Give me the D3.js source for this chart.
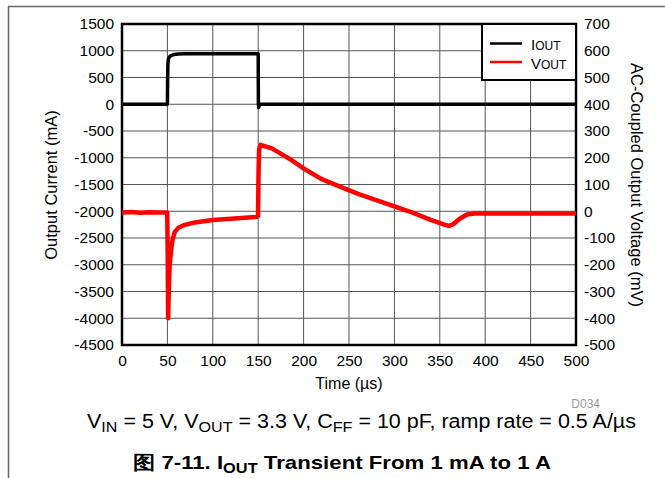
<!DOCTYPE html>
<html lang="en">
<head>
<meta charset="UTF-8">
<script src="https://cdn.jsdelivr.net/npm/d3@7"></script>
<title>IOUT Transient</title>
<style>
  body { margin: 0; background: #fff; font-family: "Liberation Sans", Arial, sans-serif; }
  .tick text { font-size: 15.5px; fill: #000; }
  .grid line { stroke: #555; stroke-width: 1; }
</style>
</head>
<body>
<svg id="chart" width="665" height="478"></svg>
<script>
// output current (mA) vs time (us)
const ioutTime = [0, 50, 50.2, 50.6, 51.2, 52.5, 54, 57, 62, 70, 150, 150.2, 150.6, 151.2, 500];
const ioutVal  = [0, 0, 400, 760, 850, 890, 910, 928, 940, 945, 945, 0, -60, 0, 0];

// AC-coupled output voltage (mV) vs time (us)
const voutTime = [0, 10, 20, 30, 40, 49.8, 50.3, 50.8, 51.5, 52.5, 54, 55.5, 58, 62, 68, 80, 100, 120, 148, 149.8,
  150.4, 151, 152.5, 165, 185, 200, 220, 240, 260, 280, 300, 320, 340, 355, 360, 365, 372, 380, 390, 420, 460, 500];
const voutVal  = [-5, -3, -6, -4, -5, -5, -150, -400, -300, -200, -150, -110, -78, -62, -52, -42, -33, -28, -21, -18,
  150, 230, 248, 235, 195, 160, 120, 92, 65, 42, 18, -5, -32, -50, -55, -48, -28, -12, -8, -8, -8, -8];

const xTicks = d3.range(0, 501, 50);
const leftTicks = d3.range(-4500, 1501, 500);
const rightTicks = d3.range(-500, 701, 100);

const svg = d3.select('#chart');
const m = { left: 122, right: 576, top: 24, bottom: 345 };

const x = d3.scaleLinear().domain([0, 500]).range([m.left, m.right]);
const yL = d3.scaleLinear().domain([-4500, 1500]).range([m.bottom, m.top]);
const yR = d3.scaleLinear().domain([-500, 700]).range([m.bottom, m.top]);

// page frame
svg.append('line').attr('x1', 8.5).attr('x2', 8.5).attr('y1', 6.5).attr('y2', 478)
  .attr('stroke', '#666').attr('stroke-width', 1.5);
svg.append('line').attr('x1', 8).attr('x2', 665).attr('y1', 6.5).attr('y2', 6.5)
  .attr('stroke', '#666').attr('stroke-width', 1.5);

// grid
const grid = svg.append('g').attr('class', 'grid');
grid.selectAll('.vx').data(xTicks).enter().append('line')
  .attr('x1', d => x(d)).attr('x2', d => x(d)).attr('y1', m.top).attr('y2', m.bottom);
grid.selectAll('.hy').data(leftTicks).enter().append('line')
  .attr('x1', m.left).attr('x2', m.right).attr('y1', d => yL(d)).attr('y2', d => yL(d));

// axes (labels only)
const plain = d => String(d);
const xAxis = svg.append('g').attr('transform', `translate(0,${m.bottom})`)
  .call(d3.axisBottom(x).tickValues(xTicks).tickFormat(plain).tickSize(0).tickPadding(10));
const lAxis = svg.append('g').attr('transform', `translate(${m.left},0)`)
  .call(d3.axisLeft(yL).tickValues(leftTicks).tickFormat(plain).tickSize(0).tickPadding(8));
const rAxis = svg.append('g').attr('transform', `translate(${m.right},0)`)
  .call(d3.axisRight(yR).tickValues(rightTicks).tickFormat(plain).tickSize(0).tickPadding(8));
[xAxis, lAxis, rAxis].forEach(a => {
  a.select('.domain').remove();
  a.selectAll('text').attr('font-family', '"Liberation Sans", Arial, sans-serif');
});

// plot border
svg.append('rect').attr('x', m.left).attr('y', m.top)
  .attr('width', m.right - m.left).attr('height', m.bottom - m.top)
  .attr('fill', 'none').attr('stroke', '#000').attr('stroke-width', 2.5);

// traces
const vLine = d3.line().x((d, i) => x(voutTime[i])).y(d => yR(d));
svg.append('path').datum(voutVal).attr('d', vLine)
  .attr('fill', 'none').attr('stroke', '#ff0000').attr('stroke-width', 4.5).attr('stroke-linejoin', 'round');

const iLine = d3.line().x((d, i) => x(ioutTime[i])).y(d => yL(d));
svg.append('path').datum(ioutVal).attr('d', iLine)
  .attr('fill', 'none').attr('stroke', '#000').attr('stroke-width', 3.5).attr('stroke-linejoin', 'round');

// legend
const lg = svg.append('g');
lg.append('rect').attr('x', 482).attr('y', m.top).attr('width', m.right - 482).attr('height', 56)
  .attr('fill', '#fff').attr('stroke', '#000').attr('stroke-width', 2);
lg.append('line').attr('x1', 490).attr('x2', 522).attr('y1', 43.5).attr('y2', 43.5)
  .attr('stroke', '#000').attr('stroke-width', 2.5);
lg.append('line').attr('x1', 490).attr('x2', 522).attr('y1', 62).attr('y2', 62)
  .attr('stroke', '#ff0000').attr('stroke-width', 2.5);
const l1 = lg.append('text').attr('x', 531).attr('y', 50).attr('font-size', 15);
l1.append('tspan').text('I');
l1.append('tspan').attr('font-size', 12).text('OUT');
const l2 = lg.append('text').attr('x', 531).attr('y', 69).attr('font-size', 15);
l2.append('tspan').text('V');
l2.append('tspan').attr('font-size', 12).text('OUT');

// axis titles
svg.append('text').attr('transform', 'translate(57,185) rotate(-90)')
  .attr('text-anchor', 'middle').attr('font-size', 16.5).text('Output Current (mA)');
svg.append('text').attr('transform', 'translate(631,185) rotate(90)')
  .attr('text-anchor', 'middle').attr('font-size', 16.5).text('AC-Coupled Output Voltage (mV)');
svg.append('text').attr('x', 349).attr('y', 389).attr('text-anchor', 'middle')
  .attr('font-size', 16).text('Time (µs)');
svg.append('text').attr('x', 600).attr('y', 408).attr('text-anchor', 'end')
  .attr('font-size', 12).attr('fill', '#999').text('D034');

// captions
const c1 = svg.append('text').attr('x', 87).attr('y', 428).attr('font-size', 20)
  .attr('textLength', 549).attr('lengthAdjust', 'spacingAndGlyphs');
c1.append('tspan').text('V');
c1.append('tspan').attr('font-size', 15).attr('dy', 4).text('IN');
c1.append('tspan').attr('dy', -4).text(' = 5 V, V');
c1.append('tspan').attr('font-size', 15).attr('dy', 4).text('OUT');
c1.append('tspan').attr('dy', -4).text(' = 3.3 V, C');
c1.append('tspan').attr('font-size', 15).attr('dy', 4).text('FF');
c1.append('tspan').attr('dy', -4).text(' = 10 pF, ramp rate = 0.5 A/µs');

const c2 = svg.append('text').attr('x', 133).attr('y', 469).attr('font-size', 19)
  .attr('font-weight', 'bold').attr('textLength', 418).attr('lengthAdjust', 'spacingAndGlyphs');
c2.append('tspan').text('图 7-11. I');
c2.append('tspan').attr('font-size', 14).attr('dy', 4).text('OUT');
c2.append('tspan').attr('dy', -4).text(' Transient From 1 mA to 1 A');
</script>
</body>
</html>
